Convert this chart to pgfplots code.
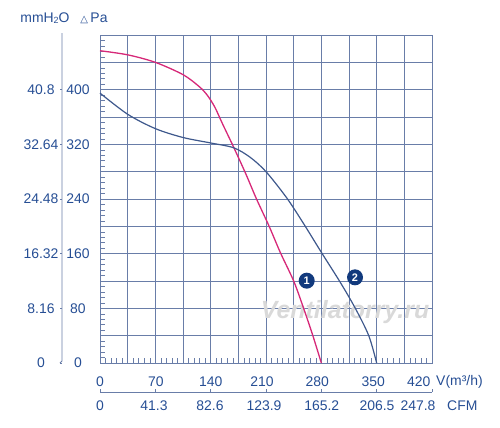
\documentclass[border=0pt]{standalone}
\usepackage{pgfplots}
\pgfplotsset{compat=1.18}
\usepackage{fontspec}
\setmainfont{Liberation Sans}
\newfontfamily\dejavu{DejaVu Sans}
\definecolor{textc}{RGB}{38,78,148}
\definecolor{gridc}{RGB}{105,125,168}
\definecolor{curveb}{RGB}{62,88,140}
\definecolor{curvem}{RGB}{214,40,120}
\definecolor{navy}{RGB}{18,58,125}
\begin{document}
\begin{tikzpicture}[x=1bp,y=1bp,font=\fontsize{14}{16}\selectfont]
\path[use as bounding box] (-100,-64) rectangle (400,363);
\begin{axis}[at={(0,0)}, anchor=south west,
  width=332bp, height=328bp, scale only axis,
  xmin=0, xmax=420, ymin=0, ymax=480,
  xtick={0,35,...,420}, ytick={0,40,...,480},
  xticklabel=\empty, yticklabel=\empty,
  grid=major, grid style={gridc, line width=0.7bp},
  axis line style={gridc, line width=0.9bp},
  tick pos=left, tick align=inside,
  major tick length=0pt, minor tick length=5bp,
  minor tick num=4,
  minor tick style={gridc, line width=0.6bp},
  clip=false]
\node[text=gray!30, font=\fontsize{25}{25}\selectfont\bfseries\itshape] at (axis cs:310,75) {Ventilatorry.ru};
\addplot[curvem, line width=1.3bp, smooth] coordinates {
 (0,457) (35,451) (70,440) (105,422) (125,405) (135,393) (145,375) (155,350) (169,316)
 (184,278) (198,240) (214,200) (228,162) (245,120) (257,82) (269,41) (280,0)};
\addplot[curveb, line width=1.2bp, smooth] coordinates {
 (0,395) (35,364) (70,343) (105,330) (140,322) (169,315) (190,301) (210,280)
 (236,242) (257,205) (280,162) (304,118) (323,80) (340,40) (350,0)};
\node[circle, fill=navy, inner sep=0pt, minimum size=16bp, text=white,
  font=\fontsize{11}{11}\selectfont\bfseries] at (axis cs:261.5,120.5) {1};
\node[circle, fill=navy, inner sep=0pt, minimum size=16bp, text=white,
  font=\fontsize{11}{11}\selectfont\bfseries] at (axis cs:322.6,125.4) {2};
\end{axis}
\begin{scope}[text=textc]
\foreach \v/\m in {0/0,80/8.16,160/16.32,240/24.48,320/32.64,400/40.8}{
  \node[inner sep=0pt] at (-22,\v*0.68333) {\v};
  \node[inner sep=0pt] at (-59,\v*0.68333) {\m};
  \draw[gridc, line width=0.6bp] (-40,\v*0.68333) -- (-38,\v*0.68333);
}
\draw[gridc, line width=0.8bp] (-38,330) -- (-38,2) -- (-40,0);
\foreach \p/\q in {0/0,55.8/70,110.8/140,162/210,217.3/280,273.3/350,318.7/420}{
  \node at (\p,-19) {\q};
}
\foreach \p/\c in {0/0,54/41.3,110/82.6,164/123.9,221.7/165.2,277/206.5,318/247.8}{
  \node at (\p,-43) {\c};
}
\foreach \q in {0,70,...,420}{
  \draw[gridc, line width=0.6bp] (\q*0.790476,-29) -- (\q*0.790476,-26);
}
\draw[gridc, line width=0.8bp] (0,-29) -- (332,-29);
\node[anchor=west, inner sep=0pt] at (336,-19) {V(m³/h)};
\node[anchor=west, inner sep=0pt] at (347,-43) {CFM};
\node[inner sep=0pt] at (-55,345) {mmH\raisebox{-1bp}{\fontsize{9}{9}\selectfont 2}O};
\node[inner sep=0pt] at (-6,345) {{\dejavu\fontsize{10}{10}\selectfont △}\,Pa};
\end{scope}
\end{tikzpicture}
\end{document}
